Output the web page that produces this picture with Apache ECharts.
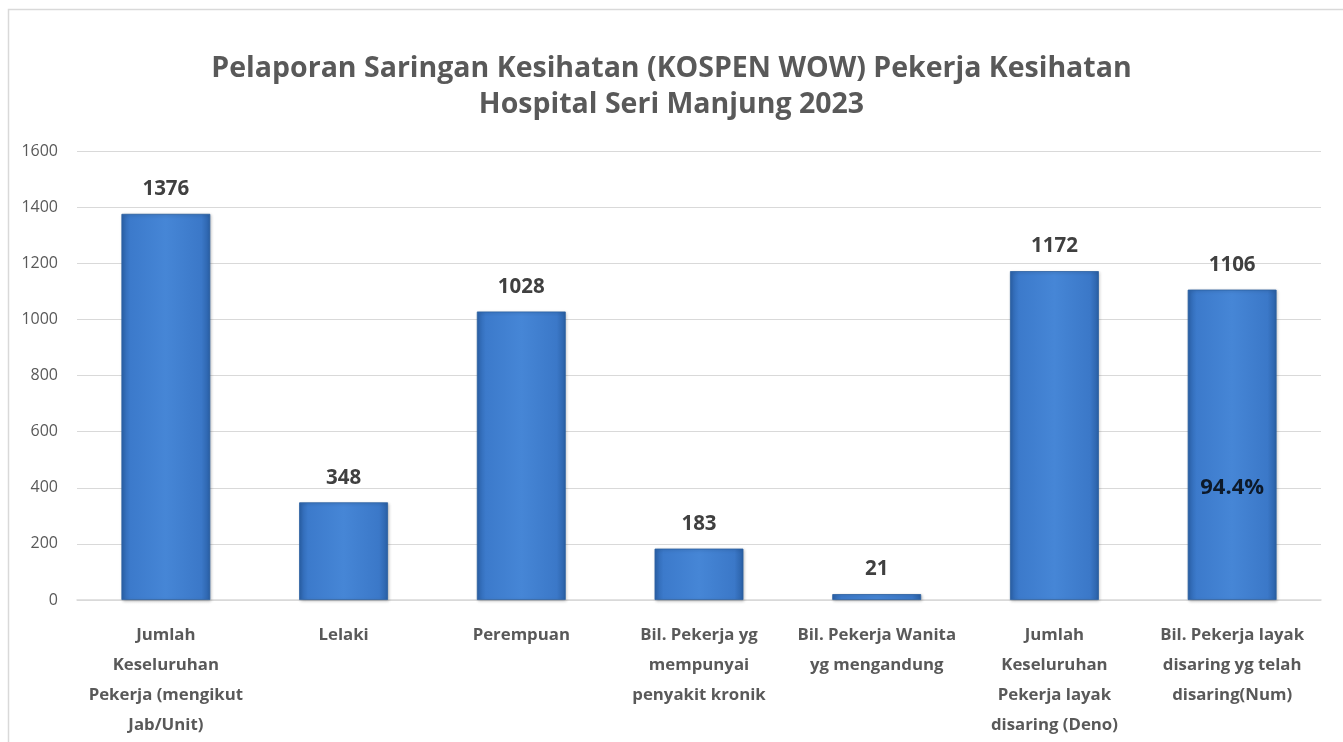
<!DOCTYPE html>
<html>
<head>
<meta charset="utf-8">
<script src="https://cdn.jsdelivr.net/npm/echarts@6/dist/echarts.min.js"></script>
<style>html,body{margin:0;padding:0;background:#fff;}#c{width:1343px;height:742px;}</style>
</head>
<body>
<div id="c"></div>
<script>
const titleText = 'Pelaporan Saringan Kesihatan (KOSPEN WOW) Pekerja Kesihatan\nHospital Seri Manjung 2023';
const categories = [
  'Jumlah\nKeseluruhan\nPekerja (mengikut\nJab/Unit)',
  'Lelaki',
  'Perempuan',
  'Bil. Pekerja yg\nmempunyai\npenyakit kronik',
  'Bil. Pekerja Wanita\nyg mengandung',
  'Jumlah\nKeseluruhan\nPekerja layak\ndisaring (Deno)',
  'Bil. Pekerja layak\ndisaring yg telah\ndisaring(Num)'
];
const values = [1376, 348, 1028, 183, 21, 1172, 1106];
const percentLabel = '94.4%';
const percentPos = [6, 400];
const yTicks = [0, 200, 400, 600, 800, 1000, 1200, 1400, 1600];

const font = '"Open Sans", "Noto Sans", sans-serif';
const chart = echarts.init(document.getElementById('c'));
chart.setOption({
  animation: false,
  backgroundColor: '#fff',
  graphic: [{
    type: 'rect', left: 6, top: 7, z: -10,
    shape: { width: 1400, height: 800 },
    style: { fill: 'none', stroke: '#d9d9d9', lineWidth: 1.5 }
  }],
  title: {
    text: titleText, left: 'center', top: 46,
    textStyle: { fontFamily: font, fontSize: 28.5, fontWeight: 'bold', color: '#595959', lineHeight: 36 }
  },
  grid: { left: 77, right: 22, top: 151, bottom: 142, containLabel: false },
  xAxis: {
    type: 'category', data: categories,
    axisLine: { lineStyle: { color: '#d9d9d9', width: 1.5 } },
    axisTick: { show: false },
    axisLabel: { interval: 0, margin: 20, fontFamily: font, fontSize: 16.8, fontWeight: 'bold', color: '#595959', lineHeight: 30 }
  },
  yAxis: {
    type: 'value', min: yTicks[0], max: yTicks[yTicks.length - 1], interval: 200,
    axisLine: { show: false }, axisTick: { show: false },
    splitLine: { lineStyle: { color: '#d9d9d9', width: 1.2 } },
    axisLabel: { margin: 19, fontFamily: font, fontSize: 16, color: '#595959', formatter: v => String(v) }
  },
  series: [{
    type: 'bar', data: values, barWidth: '50%',
    itemStyle: {
      color: new echarts.graphic.LinearGradient(0, 0, 1, 0, [
        { offset: 0, color: '#2c64ad' },
        { offset: 0.1, color: '#3c7acb' },
        { offset: 0.5, color: '#4686d6' },
        { offset: 0.9, color: '#3b78c8' },
        { offset: 1, color: '#2a60a6' }
      ]),
      borderColor: '#2b5f9f', borderWidth: 0.8,
      shadowColor: 'rgba(0,0,0,0.25)', shadowBlur: 3, shadowOffsetX: 1, shadowOffsetY: 1
    },
    label: { show: true, position: 'top', distance: 14, fontFamily: font, fontSize: 20.5, fontWeight: 'bold', color: '#404040' }
  }, {
    type: 'scatter', symbolSize: 0, data: [percentPos], z: 10,
    label: { show: true, position: 'inside', formatter: () => percentLabel, fontFamily: font, fontSize: 22, fontWeight: 'bold', color: '#000' },
    silent: true
  }]
});
</script>
</body>
</html>
